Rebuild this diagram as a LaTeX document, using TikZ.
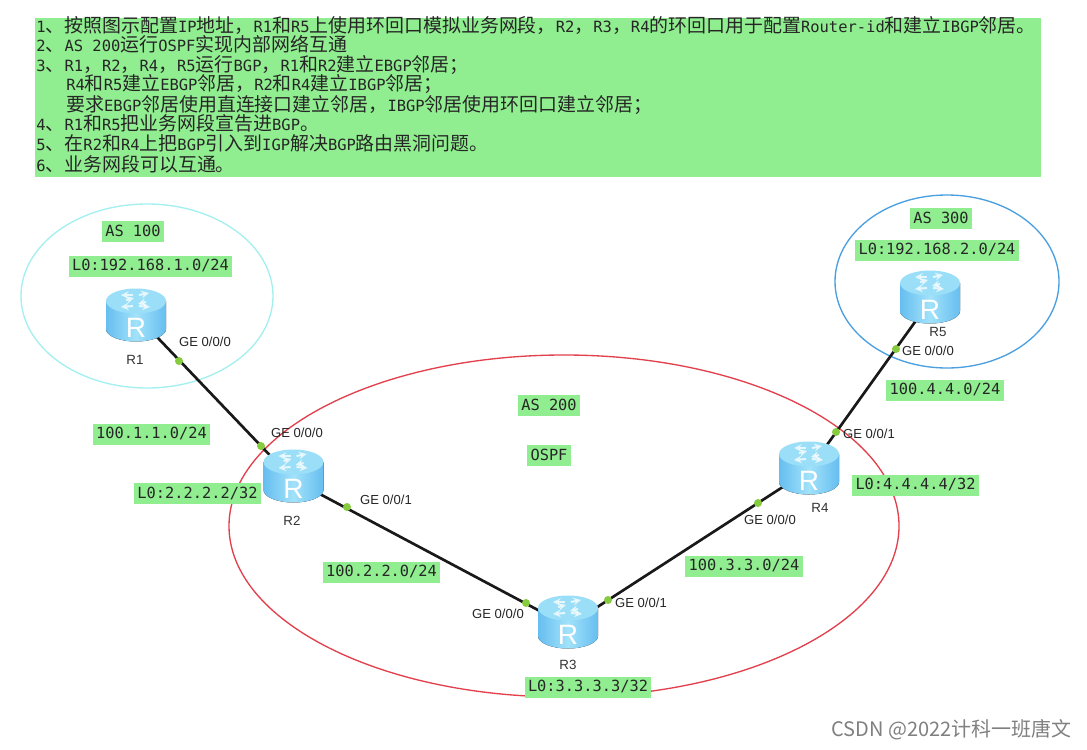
\documentclass[tikz,border=0pt]{standalone}
\usepackage{fontspec}
\setmainfont{Liberation Sans}
\newfontfamily\cjkf{Noto Sans CJK SC}
\newfontfamily\monof{DejaVu Sans Mono}
\definecolor{lab}{HTML}{90EE90}
\definecolor{rtop}{HTML}{9ADFF7}
\definecolor{rside}{HTML}{66BEF0}
\definecolor{rsidel}{HTML}{A2E2FA}
\definecolor{portc}{HTML}{86CC3E}
\definecolor{ascyan}{HTML}{A4F0F0}
\definecolor{asblue}{HTML}{4A9FE0}
\definecolor{asred}{HTML}{E2404C}
\newcommand{\mm}[1]{{\monof\fontsize{11.6pt}{12pt}\selectfont #1}}
\newcommand{\hz}[1]{{\cjkf\fontsize{14.2pt}{15pt}\selectfont #1}}
\tikzset{
  x=0.75pt,y=-0.75pt,
  labelbox/.style={fill=lab,inner xsep=2.6pt,inner ysep=0pt,minimum height=15.75pt,font=\monof\fontsize{11.5pt}{12pt}\selectfont,text=black!85},
  hdr/.style={anchor=base west,inner sep=0pt,text=black!85},
  ge/.style={font=\fontsize{9.8pt}{10pt}\selectfont,text=black!85,inner sep=0pt},
  rname/.style={font=\fontsize{10pt}{10pt}\selectfont,text=black!80,inner sep=0pt},
  port/.style={circle,fill=portc,inner sep=0pt,minimum size=6pt},
  link/.style={line width=2pt,black!90},
  router/.style={minimum width=45pt,minimum height=40pt,inner sep=0pt},
  rarrow/.style={white,line width=1.5pt,opacity=.75,-stealth},
}
\newcommand{\routericon}[1]{%
  \begin{scope}[shift={(#1.center)}]
    \fill[left color=rside,right color=rside,middle color=rsidel] (-30,-14) -- (-30,14) arc[start angle=180,end angle=0,x radius=30,y radius=12.5] -- (30,-14) -- cycle;
    \fill[rtop] (0,-14) ellipse[x radius=30,y radius=12.5];
    \draw[rarrow] (-3,-20) -- (-15,-20);
    \draw[rarrow] (3,-20) -- (13,-22);
    \draw[rarrow] (-3,-9) -- (-15,-8);
    \draw[rarrow] (3,-9) -- (14,-8);
    \draw[rarrow] (-10,-15) -- (-2,-17);
    \draw[rarrow] (10,-13) -- (2,-11);
    \node[inner sep=0pt,text=white,font=\fontsize{21pt}{22pt}\selectfont] at (0,13) {R};
  \end{scope}}
\begin{document}
\begin{tikzpicture}
\useasboundingbox (0,0) rectangle (1087,749);
\fill[white] (0,0) rectangle (1087,749);
% header
\node[fill=lab,minimum width=754.5pt,minimum height=119.25pt,inner sep=0pt,anchor=north west] (hbox) at (35,18) {};
\node[hdr] (l1) at (36,33) {\mm{1}\hz{、按照图示配置}\mm{IP}\hz{地址，}\mm{R1}\hz{和}\mm{R5}\hz{上使用环回口模拟业务网段，}\mm{R2}\hz{，}\mm{R3}\hz{，}\mm{R4}\hz{的环回口用于配置}\mm{Router-id}\hz{和建立}\mm{IBGP}\hz{邻居。}};
\node[hdr] (l2) at (36,52) {\mm{2}\hz{、}\mm{AS 200}\hz{运行}\mm{OSPF}\hz{实现内部网络互通}};
\node[hdr] (l3) at (36,71) {\mm{3}\hz{、}\mm{R1}\hz{，}\mm{R2}\hz{，}\mm{R4}\hz{，}\mm{R5}\hz{运行}\mm{BGP}\hz{，}\mm{R1}\hz{和}\mm{R2}\hz{建立}\mm{EBGP}\hz{邻居；}};
\node[hdr] (l4) at (66,90) {\mm{R4}\hz{和}\mm{R5}\hz{建立}\mm{EBGP}\hz{邻居，}\mm{R2}\hz{和}\mm{R4}\hz{建立}\mm{IBGP}\hz{邻居；}};
\node[hdr] (l5) at (66,111) {\hz{要求}\mm{EBGP}\hz{邻居使用直连接口建立邻居，}\mm{IBGP}\hz{邻居使用环回口建立邻居；}};
\node[hdr] (l6) at (36,130) {\mm{4}\hz{、}\mm{R1}\hz{和}\mm{R5}\hz{把业务网段宣告进}\mm{BGP}\hz{。}};
\node[hdr] (l7) at (36,150) {\mm{5}\hz{、在}\mm{R2}\hz{和}\mm{R4}\hz{上把}\mm{BGP}\hz{引入到}\mm{IGP}\hz{解决}\mm{BGP}\hz{路由黑洞问题。}};
\node[hdr] (l8) at (36,171) {\mm{6}\hz{、业务网段可以互通。}};
% AS ellipses
\draw[draw=ascyan,line width=1pt] (147,296) ellipse[x radius=126,y radius=92];
\draw[draw=asred,line width=1pt] (564,526) ellipse[x radius=335,y radius=171];
\draw[draw=asblue,line width=1pt] (947,281.5) ellipse[x radius=112,y radius=86.5];
% routers
\node[router] (r1) at (136,315) {};
\node[router] (r2) at (293.5,476) {};
\node[router] (r3) at (568,622) {};
\node[router] (r4) at (809,468) {};
\node[router] (r5) at (930,297) {};
% links
\draw[link] (r1.center) -- ([yshift=-3pt]r2.center);
\draw[link] ([yshift=-3pt]r2.center) -- ([yshift=-3pt]r3.center);
\draw[link] ([yshift=-3pt]r3.center) -- ([yshift=-1.5pt]r4.center);
\draw[link] ([yshift=-1.5pt]r4.center) -- ([yshift=-3pt]r5.center);
\routericon{r1}\routericon{r2}\routericon{r3}\routericon{r4}\routericon{r5}
% ports
\foreach \n/\x/\y in {p1/179/361,p2/261/446,p3/347/507,p4/526/603,p5/608/600,p6/758/503,p7/836/432,p8/896/349}{
  \node[port] (\n) at (\x,\y) {};}
% router names
\node[rname] (n1) at (135,360) {R1};
\node[rname] (n2) at (292,521) {R2};
\node[rname] (n3) at (568,665) {R3};
\node[rname] (n4) at (820,508) {R4};
\node[rname] (n5) at (938,332) {R5};
% interface labels
\node[ge] (g1) at (205,342) {GE 0/0/0};
\node[ge] (g2) at (297,433) {GE 0/0/0};
\node[ge] (g3) at (386,500) {GE 0/0/1};
\node[ge] (g4) at (498,614) {GE 0/0/0};
\node[ge] (g5) at (641,603) {GE 0/0/1};
\node[ge] (g6) at (770,520) {GE 0/0/0};
\node[ge] (g7) at (869,434) {GE 0/0/1};
\node[ge] (g8) at (928,351) {GE 0/0/0};
% green labels
\node[labelbox] (t1) at (133,231) {AS 100};
\node[labelbox] (t2) at (150.5,266) {L0:192.168.1.0/24};
\node[labelbox] (t3) at (151.5,434) {100.1.1.0/24};
\node[labelbox] (t4) at (197.5,493.5) {L0:2.2.2.2/32};
\node[labelbox] (t5) at (381.5,572) {100.2.2.0/24};
\node[labelbox] (t6) at (588,687) {L0:3.3.3.3/32};
\node[labelbox] (t7) at (744,566) {100.3.3.0/24};
\node[labelbox] (t8) at (915.5,485) {L0:4.4.4.4/32};
\node[labelbox] (t9) at (945,390) {100.4.4.0/24};
\node[labelbox] (t10) at (941,218) {AS 300};
\node[labelbox] (t11) at (937,250) {L0:192.168.2.0/24};
\node[labelbox] (t12) at (549,405) {AS 200};
\node[labelbox] (t13) at (549,455) {OSPF};
% watermark
\node[anchor=east,inner sep=0pt,text=black!50,font=\cjkf\fontsize{15pt}{16pt}\selectfont] (wm) at (1072,730) {CSDN @2022计科一班唐文};
\end{tikzpicture}
\end{document}
